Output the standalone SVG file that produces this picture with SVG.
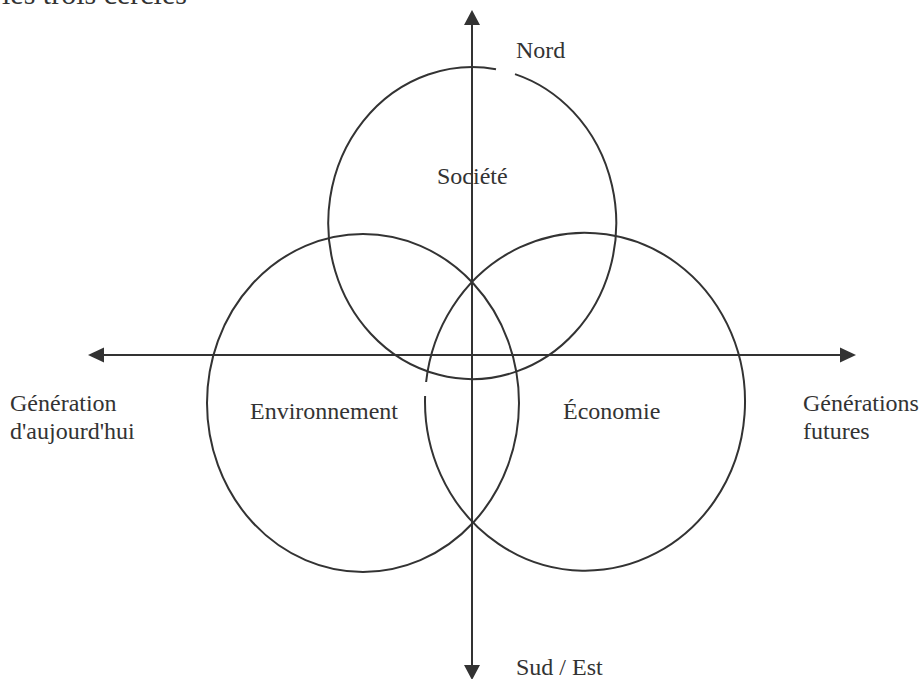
<svg xmlns="http://www.w3.org/2000/svg" width="920" height="679" viewBox="0 0 920 679">
<style>
.t{font-family:"Liberation Serif","Times New Roman",serif;font-size:24px;fill:#333}
.c{fill:none;stroke:#333;stroke-width:2}
.ax{stroke:#333;stroke-width:2}
.ah{fill:#333}
</style>
<rect width="920" height="679" fill="#fff"/>
<text class="t" x="2" y="4" style="font-size:30px">les trois cercles</text>
<g id="connectors">
<line class="ax" x1="472" y1="22" x2="472" y2="668"/>
<polygon class="ah" points="472,10 464,25 480,25"/>
<polygon class="ah" points="472,680 464,665 480,665"/>
<line class="ax" x1="100" y1="355" x2="843" y2="355"/>
<polygon class="ah" points="88,355 104,347.5 104,362.5"/>
<polygon class="ah" points="856,355 840,347.5 840,362.5"/>
</g>
<g id="societe">
<path class="c" d="M515,74.1 A144,156 0 1 1 496,69.2"/>
<text class="t" x="437" y="184">Société</text>
</g>
<g id="environnement">
<ellipse class="c" cx="363" cy="403" rx="156" ry="169"/>
<text class="t" x="250" y="419">Environnement</text>
</g>
<g id="economie">
<path class="c" d="M425.1,396 A160,169 0 1 0 426.1,382"/>
<text class="t" x="563" y="419">Économie</text>
</g>
<g id="nord"><text class="t" x="516" y="58">Nord</text></g>
<g id="sud"><text class="t" x="516" y="675">Sud / Est</text></g>
<g id="gen-auj"><text class="t" x="10" y="411">Génération</text><text class="t" x="10" y="439">d'aujourd'hui</text></g>
<g id="gen-fut"><text class="t" x="803" y="411">Générations</text><text class="t" x="803" y="439">futures</text></g>
</svg>
